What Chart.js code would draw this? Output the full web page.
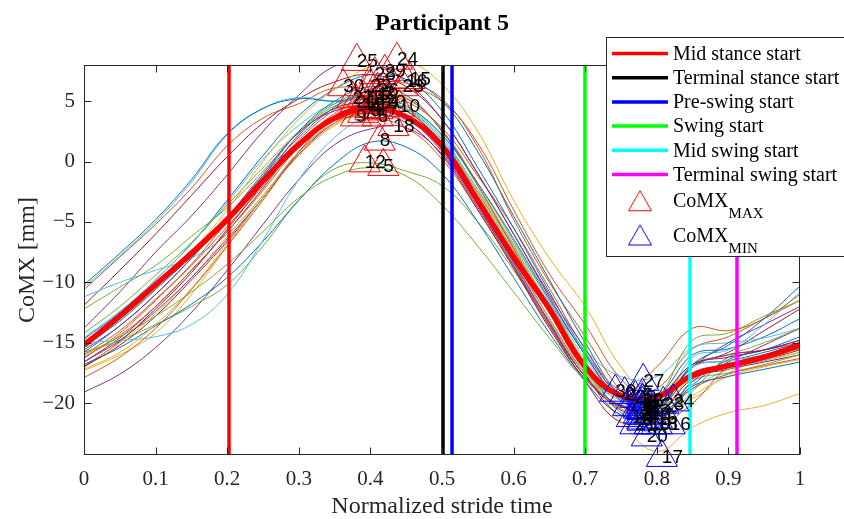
<!DOCTYPE html>
<html><head><meta charset="utf-8">
<script src="https://cdn.jsdelivr.net/npm/chart.js@4/dist/chart.umd.min.js"></script>
<style>html,body{margin:0;padding:0;background:#fff;}canvas{display:block;}</style>
</head><body>
<canvas id="c" width="844" height="519"></canvas>
<script>
// ---------- data ----------
const xGrid = [0,0.05,0.1,0.15,0.2,0.25,0.3,0.35,0.4,0.45,0.5,0.55,0.6,0.65,0.7,0.75,0.8,0.85,0.9,0.95,1];
const stride01 = [-10.2,-7.6,-4.8,-1.5,2.3,4.4,5.2,5.0,5.4,4.6,2.2,-1.8,-6.4,-11.4,-16.0,-19.8,-20.4,-16.8,-15.2,-13.0,-10.3];
const stride02 = [-17.9,-16.2,-13.8,-10.6,-7.0,-3.2,0.8,3.8,5.4,5.2,2.6,-2.0,-7.2,-12.5,-17.2,-19.2,-17.0,-13.8,-14.0,-13.0,-11.0];
const stride03 = [-17.2,-15.8,-13.5,-10.5,-6.8,-3.0,0.8,3.2,4.2,3.6,1.0,-3.4,-8.2,-13.0,-17.5,-20.5,-20.8,-17.8,-17.0,-16.4,-15.8];
const stride04 = [-16.6,-14.8,-12.4,-9.6,-6.4,-3.0,0.6,3.2,4.4,3.8,1.0,-3.5,-8.3,-13.3,-17.8,-20.3,-20.2,-17.5,-16.8,-16.0,-15.0];
const stride05 = [-16.0,-14.5,-12.8,-10.8,-8.5,-5.8,-3.0,-1.2,-0.5,-1.2,-3.6,-7.0,-10.8,-14.6,-18.0,-19.3,-19.2,-17.6,-16.9,-16.3,-15.5];
const stride06 = [-15.0,-14.8,-14.5,-13.5,-11.0,-6.5,-1.5,2.0,3.7,3.4,1.0,-3.5,-8.5,-13.2,-17.5,-19.8,-20.0,-17.0,-16.5,-16.0,-15.2];
const stride07 = [-17.0,-15.2,-12.8,-9.8,-6.6,-3.0,0.8,3.2,4.0,3.2,0.5,-4.0,-8.8,-13.8,-18.0,-20.2,-19.6,-16.8,-16.2,-15.6,-14.8];
const stride08 = [-16.8,-15.4,-13.6,-11.8,-9.6,-6.6,-3.2,-0.2,1.6,1.2,-1.0,-5.0,-9.6,-14.2,-18.2,-21.0,-21.2,-18.6,-17.8,-17.2,-16.6];
const stride09 = [-16.2,-14.4,-12.0,-9.0,-5.8,-2.4,1.2,3.4,3.6,2.8,0.2,-4.0,-8.8,-13.6,-17.8,-20.5,-21.2,-18.8,-17.6,-16.9,-16.3];
const stride10 = [-16.9,-15.0,-12.6,-9.6,-6.2,-2.8,0.6,3.0,4.2,4.4,2.2,-2.0,-7.0,-12.0,-16.6,-20.2,-21.6,-19.4,-17.8,-17.0,-16.4];
const stride11 = [-15.8,-13.6,-11.0,-8.0,-4.6,-1.0,2.4,4.2,4.6,3.6,0.8,-3.6,-8.4,-13.4,-17.8,-20.2,-20.4,-17.0,-16.0,-15.6,-14.8];
const stride12 = [-15.8,-14.8,-13.5,-12.0,-10.2,-7.0,-3.2,-0.6,-0.1,-0.8,-2.0,-5.0,-9.0,-13.5,-17.5,-19.5,-19.6,-16.8,-16.0,-15.0,-13.8];
const stride13 = [-10.4,-7.8,-5.0,-1.7,2.2,4.4,5.3,5.0,5.2,4.3,1.8,-2.3,-6.8,-11.6,-16.3,-19.6,-20.8,-16.2,-15.6,-13.5,-10.8];
const stride14 = [-16.6,-14.6,-12.0,-9.0,-5.8,-2.2,1.5,3.8,4.7,4.2,1.4,-3.0,-8.0,-13.0,-17.6,-21.0,-20.6,-17.6,-17.0,-16.4,-15.6];
const stride15 = [-15.3,-13.2,-10.6,-7.8,-4.6,-1.2,2.0,4.5,6.0,6.7,5.0,0.8,-4.5,-9.8,-15.0,-19.5,-21.2,-18.5,-16.4,-15.6,-14.5];
const stride16 = [-16.3,-14.2,-11.5,-8.5,-5.0,-1.5,1.8,4.3,5.9,6.5,5.2,1.2,-4.8,-10.0,-14.5,-19.0,-21.6,-20.0,-17.0,-16.0,-15.5];
const stride17 = [-17.3,-16.0,-14.2,-11.0,-7.0,-3.0,0.5,3.0,4.2,3.8,1.5,-2.5,-7.0,-12.0,-17.0,-21.5,-24.0,-22.0,-20.8,-20.2,-19.2];
const stride18 = [-19.1,-17.6,-15.4,-12.5,-9.0,-5.2,-1.5,1.4,2.7,2.8,0.6,-3.8,-8.6,-13.6,-17.8,-20.6,-21.6,-18.2,-16.6,-15.2,-13.8];
const stride19 = [-12.2,-10.4,-8.6,-6.2,-3.8,-0.8,2.4,4.6,5.2,4.4,1.8,-2.6,-7.4,-12.4,-17.2,-20.8,-21.6,-18.2,-17.5,-16.8,-16.0];
const stride20 = [-11.2,-10.0,-9.0,-8.0,-6.0,-2.8,0.8,3.2,4.8,4.4,2.0,-2.4,-7.2,-12.2,-17.0,-20.8,-22.4,-19.0,-17.2,-16.5,-15.8];
const stride21 = [-17.0,-14.9,-12.2,-9.2,-5.6,-1.8,2.2,4.4,4.8,3.8,1.0,-3.6,-8.6,-13.6,-18.2,-21.6,-21.0,-18.0,-17.2,-16.6,-16.0];
const stride22 = [-15.6,-13.6,-11.0,-8.0,-4.8,-1.2,2.5,5.0,6.2,5.5,2.5,-2.0,-7.0,-12.0,-16.8,-20.5,-20.6,-17.0,-16.5,-15.8,-15.0];
const stride23 = [-16.0,-14.0,-11.4,-8.6,-5.4,-2.0,1.4,4.0,5.6,6.1,5.0,1.5,-4.0,-9.3,-13.5,-18.0,-20.0,-18.8,-16.2,-15.6,-15.0];
const stride24 = [-14.8,-13.0,-10.5,-7.5,-4.0,0.0,3.5,6.0,7.9,8.3,6.4,2.5,-3.2,-8.0,-12.0,-17.0,-19.8,-19.6,-17.5,-16.3,-15.0];
const stride25 = [-13.8,-10.8,-7.5,-4.5,-1.1,2.5,5.5,7.9,8.2,6.6,3.5,-1.0,-6.0,-11.0,-15.5,-19.5,-20.0,-17.0,-15.0,-13.5,-12.0];
const stride26 = [-14.2,-12.0,-9.4,-6.7,-3.6,-0.5,2.5,4.8,5.8,5.3,2.6,-1.8,-6.6,-11.6,-16.6,-19.6,-19.5,-14.8,-14.2,-12.8,-11.5];
const stride27 = [-14.6,-12.4,-9.8,-6.8,-3.4,0.2,3.0,4.8,5.1,4.2,1.6,-2.6,-7.0,-11.8,-15.6,-17.8,-17.8,-15.4,-15.0,-14.6,-13.8];
const stride28 = [-11.9,-9.0,-6.0,-2.8,0.4,3.2,5.2,6.6,7.2,6.2,3.5,-1.0,-6.0,-11.2,-16.0,-19.6,-20.2,-17.0,-15.8,-14.0,-12.2];
const stride29 = [-14.7,-12.5,-9.8,-6.8,-3.2,0.5,3.8,6.0,7.2,6.8,4.2,-0.5,-5.5,-10.8,-15.8,-19.2,-19.4,-16.0,-15.5,-14.5,-13.0];
const stride30 = [-10.6,-7.9,-5.2,-2.2,1.3,3.6,4.8,6.1,5.9,5.0,2.8,-1.2,-5.5,-10.5,-15.5,-19.0,-18.8,-15.5,-14.5,-13.0,-11.5];
const meanCurve = [-15.2,-12.8,-10.2,-7.6,-4.8,-1.6,1.4,3.6,4.4,3.7,1.3,-3.2,-7.9,-12.2,-17.0,-19.4,-19.5,-17.7,-16.9,-16.2,-15.2];

const strideIds = [1,2,3,4,5,6,7,8,9,10,11,12,13,14,15,16,17,18,19,20,21,22,23,24,25,26,27,28,29,30];
const maxX = [0.41,0.42,0.40,0.40,0.418,0.41,0.39,0.413,0.38,0.44,0.39,0.392,0.40,0.41,0.455,0.45,0.41,0.432,0.39,0.42,0.38,0.40,0.445,0.437,0.381,0.41,0.375,0.406,0.42,0.362];
const maxY = [5.5,5.6,4.2,4.4,-0.4,3.7,4.0,1.7,3.7,4.5,4.7,-0.1,5.3,4.8,6.8,6.6,4.3,2.9,5.3,4.9,4.9,6.2,6.2,8.4,8.3,5.9,5.2,7.2,7.4,6.2];
const minX = [0.78,0.755,0.78,0.78,0.78,0.78,0.76,0.78,0.78,0.79,0.78,0.78,0.79,0.765,0.80,0.818,0.807,0.80,0.79,0.786,0.77,0.775,0.809,0.823,0.79,0.78,0.781,0.775,0.77,0.742];
const minY = [-20.6,-19.3,-21.0,-20.5,-19.4,-20.1,-20.3,-21.4,-21.5,-21.8,-20.6,-19.8,-21.0,-21.2,-21.3,-21.8,-24.5,-21.8,-21.8,-22.8,-21.8,-20.9,-20.1,-19.9,-20.3,-19.9,-18.2,-20.5,-19.6,-19.1];

const phaseNames = ['Mid stance start','Terminal stance start','Pre-swing start','Swing start','Mid swing start','Terminal swing start'];
const phaseX = [0.2025,0.5014,0.514,0.6997,0.8464,0.912];
const phaseColors = ['#FF0000','#000000','#0000FF','#00FF00','#00FFFF','#FF00FF'];

const xTicks = [0,0.1,0.2,0.3,0.4,0.5,0.6,0.7,0.8,0.9,1];
const xTickLabels = ['0','0.1','0.2','0.3','0.4','0.5','0.6','0.7','0.8','0.9','1'];
const yTicks = [-20,-15,-10,-5,0,5];
const yTickLabels = ['\u221220','\u221215','\u221210','\u22125','0','5'];
const xRange = [0,1];
const yRange = [-24.3,8];

const titleText = 'Participant 5';
const xTitle = 'Normalized stride time';
const yTitle = 'CoMX [mm]';

// ---------- styling ----------
const palette = ['#0072BD','#D95319','#EDB120','#7E2F8E','#77AC30','#4DBEEE','#A2142F'];
const SERIF = '"Liberation Serif","Times New Roman",serif';
const SANS = '"Liberation Sans",Arial,sans-serif';
const AX = '#262626';

function triImage(color){
  const cv = document.createElement('canvas');
  cv.width = 26; cv.height = 23;
  const g = cv.getContext('2d');
  g.strokeStyle = color; g.lineWidth = 1;
  g.beginPath();
  g.moveTo(13, 1.5); g.lineTo(24.5, 21.5); g.lineTo(1.5, 21.5); g.closePath();
  g.stroke();
  return cv;
}
const triRed = triImage('#FF0000');
const triBlue = triImage('#0000FF');

const strides = [stride01,stride02,stride03,stride04,stride05,stride06,stride07,stride08,stride09,stride10,
  stride11,stride12,stride13,stride14,stride15,stride16,stride17,stride18,stride19,stride20,
  stride21,stride22,stride23,stride24,stride25,stride26,stride27,stride28,stride29,stride30];

const datasets = [];
strides.forEach((arr, i) => {
  datasets.push({
    data: xGrid.map((x, k) => ({x, y: arr[k]})),
    borderColor: palette[i % 7], borderWidth: 1, pointRadius: 0, tension: 0.4,
    fill: false, order: 50
  });
});
datasets.push({
  data: xGrid.map((x, k) => ({x, y: meanCurve[k]})),
  borderColor: '#FF0000', borderWidth: 5.5, pointRadius: 0, tension: 0.4, fill: false, order: 40
});
phaseX.forEach((px, i) => {
  datasets.push({
    data: [{x: px, y: yRange[0]}, {x: px, y: yRange[1]}],
    borderColor: phaseColors[i], borderWidth: 3.5, pointRadius: 0, fill: false, order: 30
  });
});
datasets.push({
  data: maxX.map((x, k) => ({x, y: maxY[k]})), showLine: false,
  pointStyle: 'triangle', pointRadius: 18, pointBorderWidth: 1, pointBorderColor: '#FF0000',
  pointBackgroundColor: 'rgba(0,0,0,0)', borderColor: '#FF0000', clip: false, order: 20
});
datasets.push({
  data: minX.map((x, k) => ({x, y: minY[k]})), showLine: false,
  pointStyle: 'triangle', pointRadius: 18, pointBorderWidth: 1, pointBorderColor: '#0000FF',
  pointBackgroundColor: 'rgba(0,0,0,0)', borderColor: '#0000FF', clip: false, order: 20
});

const decor = {
  id: 'decor',
  afterDatasetsDraw(chart) {
    const ctx = chart.ctx, xs = chart.scales.x, ys = chart.scales.y;
    ctx.save();
    ctx.fillStyle = '#000';
    ctx.font = '19px ' + SANS;
    ctx.textAlign = 'left'; ctx.textBaseline = 'middle';
    strideIds.forEach((id, k) => {
      ctx.fillText(String(id), xs.getPixelForValue(maxX[k]), ys.getPixelForValue(maxY[k]));
    });
    strideIds.forEach((id, k) => {
      ctx.fillText(String(id), xs.getPixelForValue(minX[k]), ys.getPixelForValue(minY[k]));
    });
    ctx.restore();
  },
  afterDraw(chart) {
    const ctx = chart.ctx, a = chart.chartArea, xs = chart.scales.x, ys = chart.scales.y;
    ctx.save();
    // axes box
    ctx.strokeStyle = AX; ctx.lineWidth = 1;
    const L = Math.round(a.left) + 0.5, R = Math.round(a.right) - 0.5, T = Math.round(a.top) + 0.5, B = Math.round(a.bottom) - 0.5;
    ctx.strokeRect(L, T, R - L, B - T);
    ctx.beginPath();
    xTicks.forEach(v => {
      const px = Math.round(xs.getPixelForValue(v)) + 0.5;
      ctx.moveTo(px, B); ctx.lineTo(px, B - 7);
      ctx.moveTo(px, T); ctx.lineTo(px, T + 7);
    });
    yTicks.forEach(v => {
      const py = Math.round(ys.getPixelForValue(v)) + 0.5;
      ctx.moveTo(L, py); ctx.lineTo(L + 7, py);
      ctx.moveTo(R, py); ctx.lineTo(R - 7, py);
    });
    ctx.stroke();
    // titles
    ctx.fillStyle = '#000';
    ctx.textAlign = 'center'; ctx.textBaseline = 'alphabetic';
    ctx.font = 'bold 24px ' + SERIF;
    ctx.fillText(titleText, 442, 30);
    ctx.fillStyle = AX;
    ctx.font = '24px ' + SERIF;
    ctx.fillText(xTitle, (a.left + a.right) / 2, 513);
    ctx.save();
    ctx.translate(34, (a.top + a.bottom) / 2);
    ctx.rotate(-Math.PI / 2);
    ctx.fillText(yTitle, 0, 0);
    ctx.restore();
    // legend
    const bx = 606.5, by = 37.5, bw = 250, bh = 219;
    ctx.fillStyle = '#fff'; ctx.fillRect(bx, by, bw, bh);
    ctx.strokeStyle = '#262626'; ctx.lineWidth = 1; ctx.strokeRect(bx, by, bw, bh);
    ctx.font = '20px ' + SERIF; ctx.textAlign = 'left'; ctx.textBaseline = 'middle';
    phaseNames.forEach((name, i) => {
      const y = 53.5 + 24.2 * i;
      ctx.strokeStyle = phaseColors[i]; ctx.lineWidth = 3.5;
      ctx.beginPath(); ctx.moveTo(612, y); ctx.lineTo(668, y); ctx.stroke();
      ctx.fillStyle = '#000'; ctx.fillText(name, 673, y + 1);
    });
    const legTri = [[triRed, 200.7, 'MAX', 207, 217.5], [triBlue, 235, 'MIN', 242, 252.5]];
    legTri.forEach(([img, cy, sub, base, subBase]) => {
      ctx.drawImage(img, 640 - 13, cy - 11.5);
      ctx.fillStyle = '#000'; ctx.textBaseline = 'alphabetic';
      ctx.font = '20px ' + SERIF;
      ctx.fillText('CoMX', 673, base);
      const w = ctx.measureText('CoMX').width;
      ctx.font = '15px ' + SERIF;
      ctx.fillText(sub, 673 + w, subBase);
    });
    ctx.restore();
  }
};

new Chart(document.getElementById('c'), {
  type: 'line',
  data: { datasets },
  options: {
    responsive: false, animation: false, devicePixelRatio: 1,
    layout: { padding: { left: 0, right: 44, top: 65, bottom: 0 } },
    plugins: { legend: { display: false }, title: { display: false }, tooltip: { enabled: false } },
    scales: {
      x: {
        type: 'linear', min: xRange[0], max: xRange[1],
        afterBuildTicks: s => { s.ticks = xTicks.map(v => ({ value: v })); },
        afterFit: s => { s.height = 64; },
        grid: { display: false, drawTicks: false }, border: { display: false },
        ticks: { callback: (v, i) => xTickLabels[i], font: { family: SERIF, size: 21 }, color: AX, padding: 12, maxRotation: 0, autoSkip: false }
      },
      y: {
        type: 'linear', min: yRange[0], max: yRange[1],
        afterBuildTicks: s => { s.ticks = yTicks.map(v => ({ value: v })); },
        afterFit: s => { s.width = 84; },
        grid: { display: false, drawTicks: false }, border: { display: false },
        ticks: { callback: (v, i) => yTickLabels[i], font: { family: SERIF, size: 21 }, color: AX, padding: 9, autoSkip: false }
      }
    }
  },
  plugins: [decor]
});
</script>
</body></html>
